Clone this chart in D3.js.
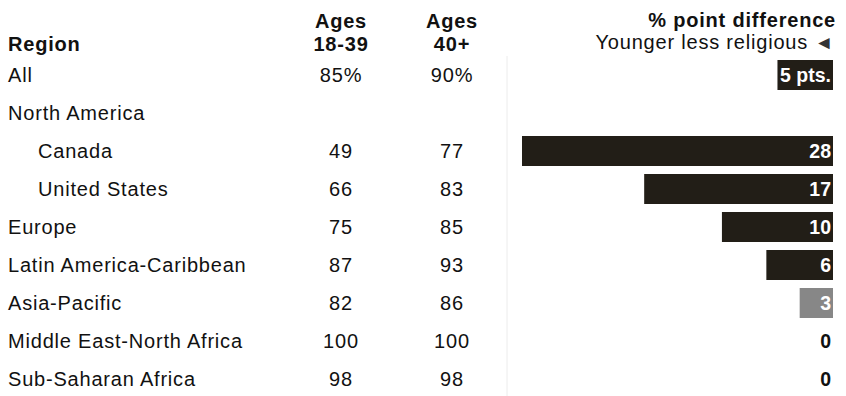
<!DOCTYPE html>
<html>
<head>
<meta charset="utf-8">
<script src="https://cdn.jsdelivr.net/npm/d3@7"></script>
<style>
  html, body { margin: 0; padding: 0; background: #fff; }
  svg text { font-family: "Liberation Sans", Arial, sans-serif; letter-spacing: 0.8px; }
</style>
</head>
<body>
<svg id="chart" width="846" height="396"></svg>
<script>
// Regions, in display order; sub-regions are indented under their parent
const regions = ["All", "North America", "Canada", "United States", "Europe",
  "Latin America-Caribbean", "Asia-Pacific", "Middle East-North Africa", "Sub-Saharan Africa"];
const indented = [false, false, true, true, false, false, false, false, false];
// Share saying religion is very important, by age group (null = no figure)
const younger = ["85%", null, 49, 66, 75, 87, 82, 100, 98];
const older   = ["90%", null, 77, 83, 85, 93, 86, 100, 98];
// Percentage-point gap (older minus younger); null = no bar
const gap = [5, null, 28, 17, 10, 6, 3, 0, 0];
const gapLabels = ["5 pts.", null, "28", "17", "10", "6", "3", "0", "0"];
// Gaps that are not statistically significant are drawn in gray
const significant = [true, null, true, true, true, true, false, true, true];

const svg = d3.select("#chart");
const ink = "#111";
const barDark = "#221e17";
const barGray = "#878787";

// Row positions
const y = d3.scalePoint().domain(d3.range(regions.length)).range([75, 379]);
// Bars grow leftward from a shared right edge
const x = d3.scaleLinear().domain([0, 28]).range([833, 522]);
const barH = 30;
const colYoung = 341, colOld = 452;

// Faint divider to the left of the bar column
svg.append("line")
  .attr("x1", 507).attr("x2", 507).attr("y1", 56).attr("y2", 396)
  .attr("stroke", "#ececec").attr("stroke-width", 1);

// Column headers
const header = svg.append("g").attr("fill", ink).style("font-size", "20px");
header.append("text").attr("x", 8).attr("y", 51).attr("font-weight", "bold").text("Region");
[[colYoung, "Ages", "18-39"], [colOld, "Ages", "40+"]].forEach(([cx, l1, l2]) => {
  header.append("text").attr("x", cx).attr("y", 28).attr("text-anchor", "middle")
    .attr("font-weight", "bold").text(l1);
  header.append("text").attr("x", cx).attr("y", 50.5).attr("text-anchor", "middle")
    .attr("font-weight", "bold").text(l2);
});
header.append("text").attr("x", 836).attr("y", 27).attr("text-anchor", "end")
  .attr("font-weight", "bold").text("% point difference");
const sub = header.append("text").attr("x", 834).attr("y", 49).attr("text-anchor", "end");
sub.append("tspan").text("Younger less religious ");
sub.append("tspan").style("font-size", "19px").attr("fill", "#333").text("\u25C4");

// Rows
const rows = svg.append("g").selectAll("g")
  .data(regions.map((r, i) => ({ i, r })))
  .join("g")
  .attr("transform", d => `translate(0,${y(d.i)})`)
  .style("font-size", "20px");

rows.append("text")
  .attr("x", d => indented[d.i] ? 38 : 8)
  .attr("y", 7)
  .attr("fill", ink)
  .text(d => d.r);

rows.filter(d => younger[d.i] !== null).append("text")
  .attr("x", colYoung).attr("y", 7).attr("text-anchor", "middle").attr("fill", ink)
  .text(d => younger[d.i]);

rows.filter(d => older[d.i] !== null).append("text")
  .attr("x", colOld).attr("y", 7).attr("text-anchor", "middle").attr("fill", ink)
  .text(d => older[d.i]);

const withBar = rows.filter(d => gap[d.i] !== null);

withBar.filter(d => gap[d.i] > 0).append("rect")
  .attr("x", d => x(gap[d.i]))
  .attr("width", d => x(0) - x(gap[d.i]))
  .attr("y", -barH / 2)
  .attr("height", barH)
  .attr("fill", d => significant[d.i] ? barDark : barGray);

withBar.append("text")
  .attr("x", 831)
  .attr("y", 7)
  .attr("text-anchor", "end")
  .attr("font-weight", "bold")
  .style("letter-spacing", "0px")
  .style("font-size", "19.5px")
  .attr("fill", d => gap[d.i] > 0 ? "#fff" : ink)
  .text(d => gapLabels[d.i]);
</script>
</body>
</html>
